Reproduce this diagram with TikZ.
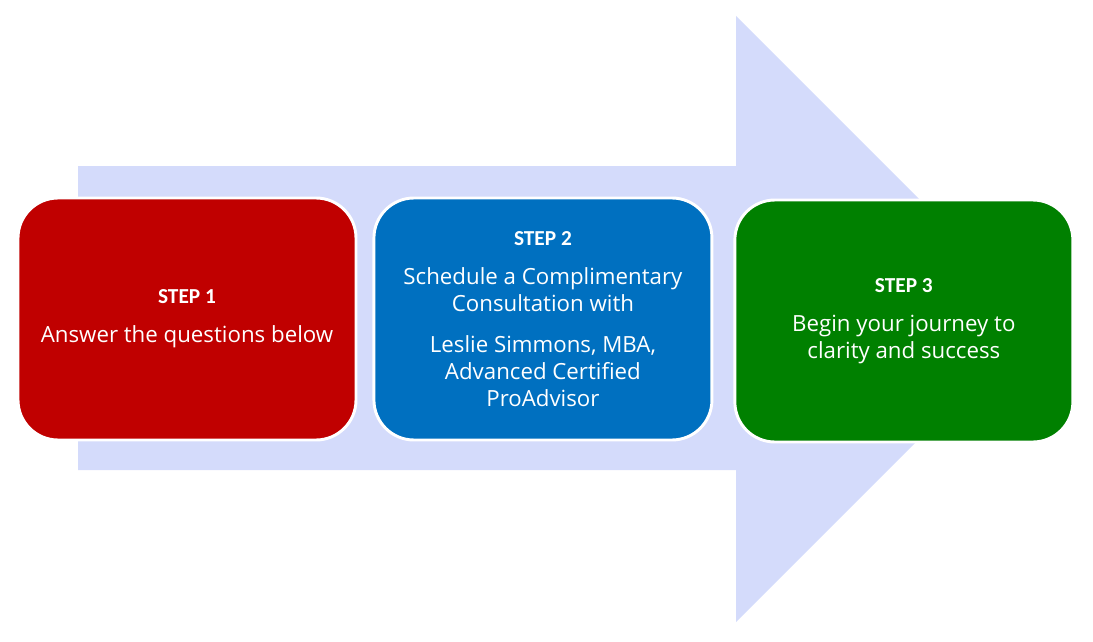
\documentclass[tikz,border=0pt]{standalone}
\usepackage{fontspec}
\usepackage{xcolor}
\usepackage{tikz}
\usetikzlibrary{positioning}
\setmainfont{Open Sans}
\newfontfamily\headfont{Carlito}
\definecolor{arrowblue}{RGB}{212,219,251}
\definecolor{stepred}{RGB}{192,0,0}
\definecolor{stepblue}{RGB}{0,112,192}
\definecolor{stepgreen}{RGB}{0,128,0}
\newcommand{\stephead}[1]{{\headfont\bfseries\fontsize{16}{20}\selectfont #1}}

\begin{document}
\begin{tikzpicture}[x=0.75pt,y=-0.75pt, every node/.style={font=\fontsize{16.7}{20.25}\selectfont},
    stepbox/.style={draw=white,line width=2.2pt,rounded corners=30pt,text=white,align=center,
      minimum width=253.5pt,minimum height=181.5pt,inner sep=0pt}]
    \useasboundingbox (0,0) rectangle (1093,642);
    % big arrow behind the steps
    \fill[arrowblue] (78,166) -- (736,166) -- (736,16) -- (1039,319) -- (736,622) -- (736,470) -- (78,470) -- cycle;
    \node[stepbox,fill=stepred] (one) at (187,319) {\stephead{STEP 1}\\[9pt] Answer the questions below};
    \node[stepbox,fill=stepblue,right=11.25pt of one] (two) {\stephead{STEP 2}\\[9pt] Schedule a Complimentary\\ Consultation with\\[10pt] Leslie Simmons, MBA,\\ Advanced Certified\\ ProAdvisor};
    \node[stepbox,fill=stepgreen,right=15pt of two,yshift=-1.5pt] (three) {\stephead{STEP 3}\\[9pt] Begin your journey to\\ clarity and success};
\end{tikzpicture}
\end{document}
